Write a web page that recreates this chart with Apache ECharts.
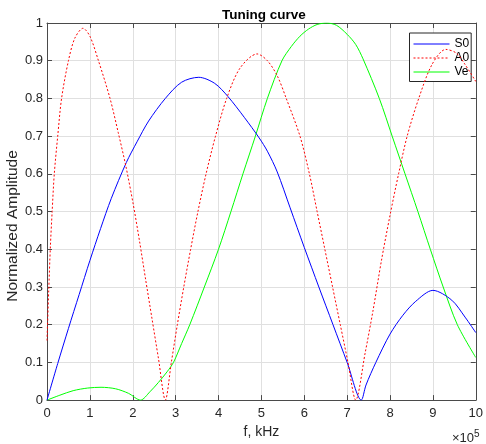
<!DOCTYPE html>
<html><head><meta charset="utf-8">
<script src="https://cdn.jsdelivr.net/npm/echarts@6/dist/echarts.min.js"></script>
<style>html,body{margin:0;padding:0;background:#fff}#c{width:486px;height:444px}</style>
</head><body><div id="c"></div>
<script>
const titleText = 'Tuning curve';
const xName = 'f, kHz';
const yName = 'Normalized Amplitude';
const seriesNames = ['S0', 'A0', 'Ve'];
const xTickLabels = ['0','1','2','3','4','5','6','7','8','9','10'];
const yTickLabels = ['0','0.1','0.2','0.3','0.4','0.5','0.6','0.7','0.8','0.9','1'];

const s0Data = [[0,0],[0.25,0.097],[0.5,0.19],[0.75,0.28],[1.0,0.37],[1.25,0.455],[1.5,0.535],[1.85,0.63],[2.1,0.685],[2.37,0.74],[2.76,0.8],[3.14,0.843],[3.54,0.856],[3.91,0.84],[4.22,0.805],[4.6,0.75],[4.95,0.695],[5.14,0.66],[5.37,0.605],[5.67,0.51],[6.0,0.405],[6.34,0.3],[6.67,0.2],[7.0,0.1],[7.33,0],[7.44,0.04],[7.67,0.1],[8.0,0.175],[8.3,0.225],[8.6,0.262],[9.0,0.291],[9.44,0.265],[9.75,0.22],[10,0.179]];

const a0Data = [[0,0.158],[0.04,0.29],[0.08,0.41],[0.12,0.5],[0.17,0.6],[0.25,0.7],[0.34,0.8],[0.5,0.9],[0.65,0.96],[0.84,0.986],[1.0,0.965],[1.2,0.9],[1.47,0.8],[1.66,0.71],[1.84,0.62],[2.01,0.52],[2.16,0.42],[2.3,0.32],[2.45,0.215],[2.6,0.11],[2.76,0],[2.9,0.1],[3.04,0.2],[3.19,0.3],[3.35,0.4],[3.52,0.5],[3.71,0.6],[3.93,0.7],[4.19,0.8],[4.5,0.88],[4.9,0.918],[5.14,0.9],[5.37,0.86],[5.58,0.8],[5.9,0.7],[6.12,0.6],[6.3,0.5],[6.48,0.4],[6.66,0.3],[6.84,0.2],[7.02,0.1],[7.2,0],[7.42,0.125],[7.6,0.235],[7.8,0.37],[8.0,0.49],[8.2,0.6],[8.4,0.7],[8.67,0.8],[8.98,0.89],[9.3,0.93],[9.55,0.92],[9.75,0.89],[10,0.845]];

const veData = [[0,0],[0.3,0.013],[0.61,0.025],[0.95,0.032],[1.26,0.034],[1.6,0.03],[1.9,0.018],[2.18,0],[2.4,0.022],[2.6,0.047],[2.8,0.075],[2.95,0.1],[3.14,0.15],[3.33,0.2],[3.67,0.3],[4.0,0.4],[4.29,0.5],[4.57,0.6],[4.86,0.7],[5.14,0.8],[5.48,0.9],[5.7,0.938],[5.9,0.965],[6.1,0.984],[6.3,0.996],[6.52,1.0],[6.75,0.994],[7.0,0.97],[7.2,0.943],[7.37,0.905],[7.75,0.8],[8.05,0.7],[8.35,0.6],[8.65,0.5],[8.94,0.4],[9.24,0.3],[9.57,0.2],[10,0.113]];

const axisColor = '#4a4a4a';
const gridColor = '#e0e0e0';
const labelColor = '#262626';
const fontFam = 'Liberation Sans, Arial, Helvetica, sans-serif';
const seriesColors = ['#0000ff', '#ff0000', '#00ff00'];
const seriesDash = ['solid', [2, 2], 'solid'];
const seriesData = [s0Data, a0Data, veData];

const chart = echarts.init(document.getElementById('c'), null, {renderer: 'canvas'});

const baseX = {
  type: 'value', min: 0, max: 10, interval: 1,
  axisLine: {show: true, onZero: false, lineStyle: {color: axisColor, width: 1}},
  axisTick: {show: true, inside: true, length: 5, lineStyle: {color: axisColor}},
  splitLine: {show: false}
};
const baseY = {
  type: 'value', min: 0, max: 1, interval: 0.1,
  axisLine: {show: true, onZero: false, lineStyle: {color: axisColor, width: 1}},
  axisTick: {show: true, inside: true, length: 5, lineStyle: {color: axisColor}},
  splitLine: {show: false}
};

chart.setOption({
  animation: false,
  backgroundColor: '#fff',
  textStyle: {fontFamily: fontFam},
  grid: {left: 47, right: 5, top: 23, bottom: 41, containLabel: false},
  graphic: [
    {type: 'text', left: 264 - 42, top: 8, style: {text: titleText, fontSize: 13.5, fontWeight: 'bold', fill: '#000', fontFamily: fontFam}},
    {type: 'text', left: 452, top: 429, style: {text: '×10{s|5}', fontSize: 13, fill: labelColor, fontFamily: fontFam,
      rich: {s: {fontSize: 10, verticalAlign: 'top', padding: [0,0,8,0], fill: labelColor}}}},
    {type: 'text', x: 13, y: 226, rotation: Math.PI / 2,
      style: {text: yName, fontSize: 15.5, fill: labelColor, fontFamily: fontFam, align: 'center', verticalAlign: 'middle'}}
  ],
  xAxis: [
    Object.assign({}, baseX, {
      position: 'bottom',
      name: xName, nameLocation: 'middle', nameGap: 22,
      nameTextStyle: {fontSize: 14, color: labelColor},
      axisLabel: {show: true, margin: 7, fontSize: 13, color: labelColor,
        formatter: v => xTickLabels[Math.round(v)]},
      splitLine: {show: true, lineStyle: {color: gridColor, width: 1}}
    }),
    Object.assign({}, baseX, {position: 'top', axisLabel: {show: false}})
  ],
  yAxis: [
    Object.assign({}, baseY, {
      position: 'left',
      axisLabel: {show: true, margin: 4, fontSize: 13, color: labelColor,
        formatter: v => yTickLabels[Math.round(v * 10)]},
      splitLine: {show: true, lineStyle: {color: gridColor, width: 1}}
    }),
    Object.assign({}, baseY, {position: 'right', axisLabel: {show: false}})
  ],
  legend: {
    orient: 'vertical', left: 409.5, top: 33,
    padding: [5, 2, 3.5, 3.5], itemGap: 2, itemWidth: 36, itemHeight: 12,
    backgroundColor: '#fff', borderColor: '#262626', borderWidth: 1,
    textStyle: {fontSize: 12, color: '#000'},
    data: seriesNames.map((n, i) => ({
      name: n,
      itemStyle: {opacity: 0},
      lineStyle: {color: seriesColors[i], width: 1, type: seriesDash[i]}
    }))
  },
  series: seriesNames.map((n, i) => ({
    name: n, type: 'line', data: seriesData[i], symbol: 'none', smooth: 0.3,
    lineStyle: {color: seriesColors[i], width: 1, type: seriesDash[i]},
    itemStyle: {color: seriesColors[i]},
    z: [3, 4, 2][i]
  }))
});
</script>
</body></html>
